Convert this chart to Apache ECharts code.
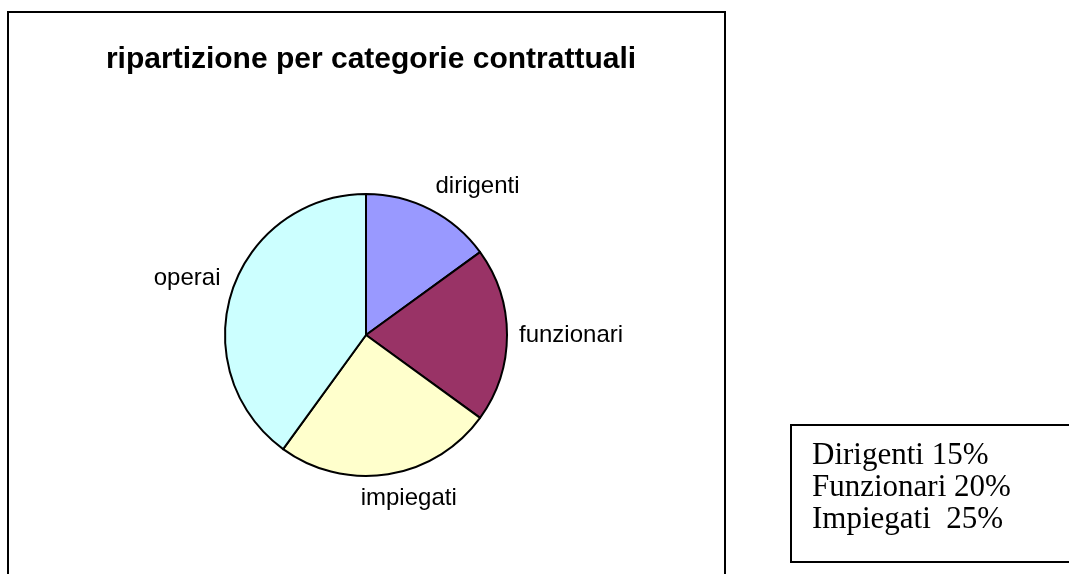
<!DOCTYPE html>
<html>
<head>
<meta charset="utf-8">
<script src="https://cdn.jsdelivr.net/npm/echarts@6/dist/echarts.min.js"></script>
<style>
  html, body { margin: 0; padding: 0; background: #fff; }
  #main { width: 1069px; height: 574px; }
</style>
</head>
<body>
<div id="main"></div>
<script>
// dati
var titolo = 'ripartizione per categorie contrattuali';
var categorie = ['dirigenti', 'funzionari', 'impiegati', 'operai'];
var valori = [15, 20, 25, 40];
var colori = ['#9999FF', '#993366', '#FFFFCC', '#CCFFFF'];
var righeBox = ['Dirigenti 15%', 'Funzionari 20%', 'Impiegati  25%'];

var cx = 366, cy = 335, raggio = 141;
var totale = valori.reduce(function (a, b) { return a + b; }, 0);

// angolo medio di ogni fetta (da ore 12, senso orario)
var angoliMedi = [];
var acc = 0;
valori.forEach(function (v) {
    angoliMedi.push((acc + v / 2) / totale * Math.PI * 2);
    acc += v;
});

var clamp = function (v) { return Math.max(-1, Math.min(1, v)); };

var chartDom = document.getElementById('main');
var myChart = echarts.init(chartDom);

var option = {
    animation: false,
    title: {
        text: titolo,
        left: cx,
        textAlign: 'center',
        top: 40,
        textStyle: {
            fontFamily: 'Liberation Sans, Arial, sans-serif',
            fontWeight: 'bold',
            fontSize: 30,
            color: '#000'
        }
    },
    graphic: [
        {
            type: 'rect',
            shape: { x: 8, y: 12, width: 717, height: 600 },
            style: { fill: 'none', stroke: '#000', lineWidth: 2 },
            z: 0
        },
        {
            type: 'rect',
            shape: { x: 791, y: 425, width: 320, height: 137 },
            style: { fill: 'none', stroke: '#000', lineWidth: 2 },
            z: 0
        },
        {
            type: 'text',
            left: 812,
            top: 440,
            style: {
                text: righeBox.join('\n'),
                font: '31px "Liberation Serif", "Times New Roman", serif',
                lineHeight: 32,
                fill: '#000'
            }
        }
    ],
    series: [
        {
            type: 'pie',
            center: [cx, cy],
            radius: raggio,
            startAngle: 90,
            clockwise: true,
            data: categorie.map(function (c, i) {
                return { name: c, value: valori[i], itemStyle: { color: colori[i] } };
            }),
            itemStyle: {
                borderColor: '#000',
                borderWidth: 2
            },
            label: {
                show: true,
                position: 'outside',
                formatter: '{b}',
                fontFamily: 'Liberation Sans, Arial, sans-serif',
                fontSize: 24,
                color: '#000'
            },
            labelLine: { show: false },
            labelLayout: function (params) {
                var a = angoliMedi[params.dataIndex];
                var dx = Math.sin(a), dy = -Math.cos(a);
                var w = params.labelRect.width, h = params.labelRect.height;
                var d = raggio + 12;
                return {
                    x: cx + dx * d + w / 2 * clamp(2.5 * dx),
                    y: cy + dy * d + h / 2 * clamp(2.5 * dy),
                    align: 'center',
                    verticalAlign: 'middle'
                };
            },
            emphasis: { disabled: true }
        }
    ]
};

option && myChart.setOption(option);
</script>
</body>
</html>
